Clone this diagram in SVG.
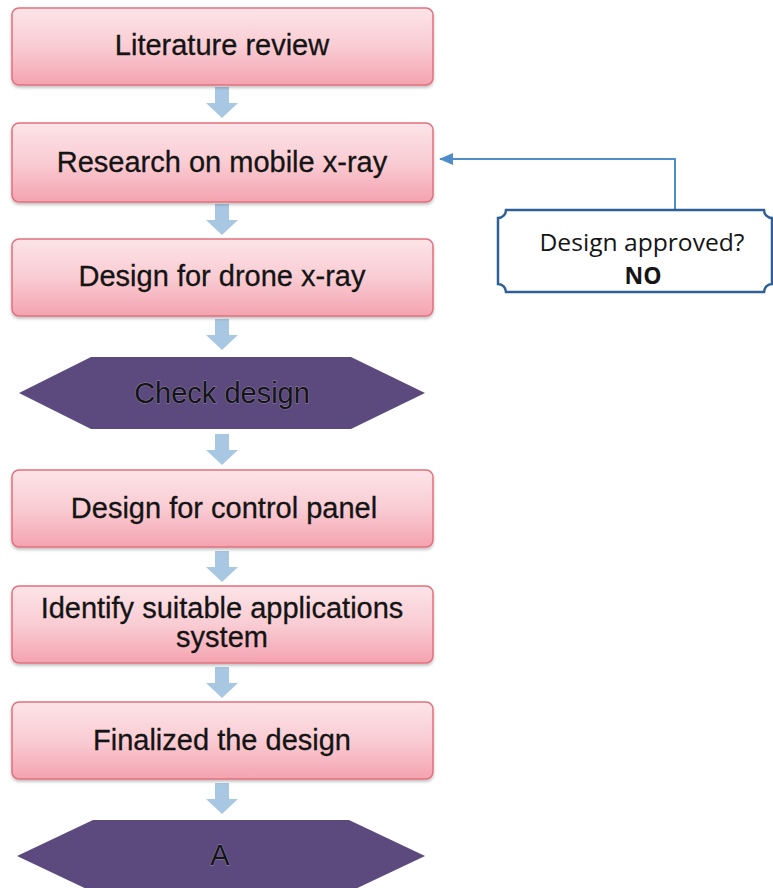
<svg xmlns="http://www.w3.org/2000/svg" width="773" height="888" viewBox="0 0 773 888">
<defs>
  <linearGradient id="pink" x1="0" y1="0" x2="0" y2="1">
    <stop offset="0" stop-color="#fce4e8"/>
    <stop offset="0.5" stop-color="#f9ccd3"/>
    <stop offset="1" stop-color="#f4a3b0"/>
  </linearGradient>
  <filter id="shadow" x="-5%" y="-10%" width="110%" height="130%">
    <feDropShadow dx="0" dy="2" stdDeviation="1.5" flood-color="#000" flood-opacity="0.25"/>
  </filter>
  <marker id="ah" markerWidth="14" markerHeight="12" refX="13" refY="6" orient="auto" markerUnits="userSpaceOnUse">
    <path d="M0,0 L14,6 L0,12 Z" fill="#4f8cca"/>
  </marker>
  <path id="blk" d="M-7,0 H7 V16 H16 L0,31 L-16,16 H-7 Z"/>
</defs>
<style>
  .box { fill: url(#pink); stroke: #e2707f; stroke-width: 1.5; filter: url(#shadow); }
  .hex { fill: #5c4a7f; }
  .t { font-family: "Liberation Sans", Arial, sans-serif; font-size: 29px; fill: #141414; stroke: #141414; stroke-width: 0.3; text-anchor: middle; }
  .ht { font-family: "Liberation Sans", Arial, sans-serif; font-size: 29px; fill: #151515; text-anchor: middle; stroke: #9486ad; stroke-width: 0.8; paint-order: stroke; }
  .arr { fill: #a8c7e3; }
  .dt { font-family: "Open Sans", "Noto Sans", sans-serif; font-size: 23px; fill: #151515; text-anchor: middle; }
</style>

<g id="connectors">
  <use href="#blk" class="arr" x="222" y="87"/>
  <use href="#blk" class="arr" x="222" y="204"/>
  <use href="#blk" class="arr" x="222" y="319"/>
  <use href="#blk" class="arr" x="222" y="434"/>
  <use href="#blk" class="arr" x="222" y="551"/>
  <use href="#blk" class="arr" x="222" y="667"/>
  <use href="#blk" class="arr" x="222" y="783"/>
  <polyline points="675,210 675,159 440,159" fill="none" stroke="#4f8cca" stroke-width="2" marker-end="url(#ah)"/>
</g>

<g id="n1">
  <rect class="box" x="12" y="8" width="421" height="77" rx="7"/>
  <text class="t" x="222" y="55">Literature review</text>
</g>
<g id="n2">
  <rect class="box" x="12" y="123" width="421" height="79" rx="7"/>
  <text class="t" x="222" y="172">Research on mobile x-ray</text>
</g>
<g id="n3">
  <rect class="box" x="12" y="239" width="421" height="77" rx="7"/>
  <text class="t" x="222" y="286">Design for drone x-ray</text>
</g>
<g id="n4">
  <polygon class="hex" points="19,393 91,357 351,357 425,393 351,429 91,429"/>
  <text class="ht" x="222" y="403">Check design</text>
</g>
<g id="n5">
  <rect class="box" x="12" y="470" width="421" height="77" rx="7"/>
  <text class="t" x="224" y="518">Design for control panel</text>
</g>
<g id="n6">
  <rect class="box" x="12" y="586" width="421" height="77" rx="7"/>
  <text class="t" x="222" y="618">Identify suitable applications</text>
  <text class="t" x="222" y="647">system</text>
</g>
<g id="n7">
  <rect class="box" x="12" y="702" width="421" height="77" rx="7"/>
  <text class="t" x="222" y="750">Finalized the design</text>
</g>
<g id="n8">
  <polygon class="hex" points="17,856 93,820 349,820 425,856 349,892 93,892"/>
  <text class="ht" x="220" y="865">A</text>
</g>
<g id="decision">
  <path d="M506,210 H764 A8,8 0 0 0 772,218 V284 A8,8 0 0 0 764,292 H506 A8,8 0 0 0 498,284 V218 A8,8 0 0 0 506,210 Z" fill="#ffffff" stroke="#2f5f98" stroke-width="2.5"/>
  <text class="dt" x="642" y="251" textLength="205" lengthAdjust="spacingAndGlyphs">Design approved?</text>
  <text class="dt" x="643" y="284" font-weight="bold">NO</text>
</g>
</svg>
